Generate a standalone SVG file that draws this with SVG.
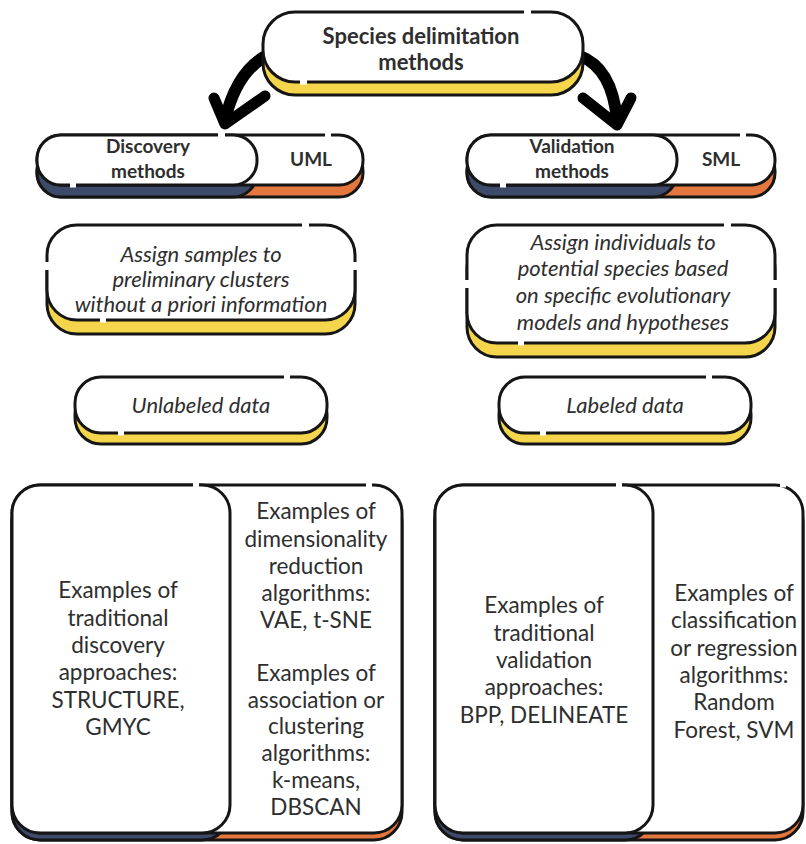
<svg xmlns="http://www.w3.org/2000/svg" width="806" height="844" viewBox="0 0 806 844">
<defs>
<style>
.bg{fill:#fff}
.box{fill:#fff;stroke:#151515;stroke-width:3}
.y{fill:#F4D54C;stroke:#151515;stroke-width:3}
.n{fill:#3D4A69;stroke:#151515;stroke-width:3}
.o{fill:#E3773E;stroke:#151515;stroke-width:3}
.gap{stroke:#fff;stroke-width:5;fill:none}
.arr{fill:none;stroke:#000;stroke-width:12;stroke-linecap:round}
.head{fill:none;stroke:#000;stroke-width:11;stroke-linecap:round;stroke-linejoin:round}
text{font-family:Lato,"Liberation Sans",sans-serif;fill:#2e2e2e;text-anchor:middle}
.b{font-weight:bold;font-size:22px}
.bs{font-weight:bold;font-size:19px}
.i{font-style:italic;font-size:22px}
.r{font-size:22.5px}
</style>
</defs>
<rect class="bg" x="0" y="0" width="806" height="844"/>

<g id="connectors">
<path class="arr" d="M 264 57 Q 236 74 225 120"/>
<path class="head" d="M 214 98 L 225 124 L 265 96"/>
<path class="arr" d="M 580 56 Q 612 68 617 120"/>
<path class="head" d="M 583 98 L 617 125 L 631 98"/>
</g>

<g id="root">
<rect class="y" x="263" y="25" width="320" height="70" rx="32"/>
<rect class="box" x="263" y="12" width="320" height="70" rx="32"/>
<line class="gap" x1="524" y1="12" x2="531" y2="12"/>
<line class="gap" x1="300" y1="82" x2="307" y2="82"/>
<text class="b" x="421" y="44">Species delimitation</text>
<text class="b" x="421" y="70">methods</text>
</g>

<g id="discovery">
<rect class="o" x="37" y="147" width="326" height="50" rx="24"/>
<rect class="n" x="37" y="147" width="220" height="50" rx="24"/>
<rect class="box" x="37" y="135" width="326" height="50" rx="24"/>
<rect class="box" x="37" y="135" width="220" height="50" rx="24"/>
<line class="gap" x1="218" y1="135" x2="225" y2="135"/>
<line class="gap" x1="325" y1="135" x2="331" y2="135"/>
<line class="gap" x1="70" y1="185" x2="76" y2="185"/>
<text class="bs" x="148" y="153">Discovery</text>
<text class="bs" x="148" y="178">methods</text>
<text class="bs" x="311" y="166">UML</text>
</g>

<g id="validation">
<rect class="o" x="467" y="147" width="308" height="50" rx="24"/>
<rect class="n" x="467" y="147" width="210" height="50" rx="24"/>
<rect class="box" x="467" y="135" width="308" height="50" rx="24"/>
<rect class="box" x="467" y="135" width="210" height="50" rx="24"/>
<line class="gap" x1="740" y1="135" x2="746" y2="135"/>
<line class="gap" x1="500" y1="185" x2="506" y2="185"/>
<text class="bs" x="572" y="153">Validation</text>
<text class="bs" x="572" y="178">methods</text>
<text class="bs" x="721" y="166">SML</text>
</g>

<g id="assign-samples">
<rect class="y" x="47" y="239" width="308" height="95" rx="30"/>
<rect class="box" x="47" y="225" width="308" height="95" rx="30"/>
<line class="gap" x1="302" y1="225" x2="309" y2="225"/>
<line class="gap" x1="47" y1="262" x2="47" y2="270"/>
<line class="gap" x1="355" y1="262" x2="355" y2="270"/>
<line class="gap" x1="100" y1="320" x2="106" y2="320"/>
<text class="i" x="201" y="262">Assign samples to</text>
<text class="i" x="201" y="287">preliminary clusters</text>
<text class="i" x="201" y="312">without a priori information</text>
</g>

<g id="assign-individuals">
<rect class="y" x="467" y="239" width="308" height="118" rx="30"/>
<rect class="box" x="467" y="225" width="308" height="118" rx="30"/>
<line class="gap" x1="724" y1="225" x2="731" y2="225"/>
<line class="gap" x1="775" y1="280" x2="775" y2="288"/>
<line class="gap" x1="467" y1="280" x2="467" y2="288"/>
<line class="gap" x1="518" y1="343" x2="524" y2="343"/>
<text class="i" x="623" y="250">Assign individuals to</text>
<text class="i" x="623" y="276">potential species based</text>
<text class="i" x="623" y="303">on specific evolutionary</text>
<text class="i" x="623" y="330">models and hypotheses</text>
</g>

<g id="unlabeled">
<rect class="y" x="75" y="388" width="252" height="56" rx="26"/>
<rect class="box" x="75" y="377" width="252" height="56" rx="26"/>
<line class="gap" x1="284" y1="377" x2="290" y2="377"/>
<line class="gap" x1="118" y1="433" x2="124" y2="433"/>
<text class="i" x="201" y="413">Unlabeled data</text>
</g>

<g id="labeled">
<rect class="y" x="499" y="388" width="252" height="56" rx="26"/>
<rect class="box" x="499" y="377" width="252" height="56" rx="26"/>
<line class="gap" x1="706" y1="377" x2="712" y2="377"/>
<line class="gap" x1="540" y1="433" x2="546" y2="433"/>
<text class="i" x="625" y="413">Labeled data</text>
</g>

<g id="discovery-examples">
<rect class="o" x="12" y="494" width="390" height="346" rx="28"/>
<rect class="n" x="12" y="494" width="218" height="346" rx="28"/>
<rect class="box" x="12" y="485" width="390" height="348" rx="28"/>
<rect class="box" x="12" y="485" width="218" height="348" rx="28"/>
<line class="gap" x1="193" y1="485" x2="199" y2="485"/>
<line class="gap" x1="366" y1="485" x2="372" y2="485"/>
<text class="r" x="118" y="598">Examples of</text>
<text class="r" x="118" y="626">traditional</text>
<text class="r" x="118" y="653">discovery</text>
<text class="r" x="118" y="680">approaches:</text>
<text class="r" x="118" y="708">STRUCTURE,</text>
<text class="r" x="118" y="735">GMYC</text>
<text class="r" x="316" y="519">Examples of</text>
<text class="r" x="316" y="547">dimensionality</text>
<text class="r" x="316" y="574">reduction</text>
<text class="r" x="316" y="601">algorithms:</text>
<text class="r" x="316" y="628">VAE, t-SNE</text>
<text class="r" x="316" y="681">Examples of</text>
<text class="r" x="316" y="708">association or</text>
<text class="r" x="316" y="734">clustering</text>
<text class="r" x="316" y="761">algorithms:</text>
<text class="r" x="316" y="788">k-means,</text>
<text class="r" x="316" y="815">DBSCAN</text>
</g>

<g id="validation-examples">
<rect class="o" x="435" y="494" width="368" height="346" rx="28"/>
<rect class="n" x="435" y="494" width="218" height="346" rx="28"/>
<rect class="box" x="435" y="485" width="368" height="348" rx="28"/>
<rect class="box" x="435" y="485" width="218" height="348" rx="28"/>
<line class="gap" x1="616" y1="485" x2="622" y2="485"/>
<line class="gap" x1="780" y1="485" x2="786" y2="485"/>
<text class="r" x="544" y="613">Examples of</text>
<text class="r" x="544" y="641">traditional</text>
<text class="r" x="544" y="668">validation</text>
<text class="r" x="544" y="695">approaches:</text>
<text class="r" x="544" y="723">BPP, DELINEATE</text>
<text class="r" x="734" y="601">Examples of</text>
<text class="r" x="734" y="628">classification</text>
<text class="r" x="734" y="656">or regression</text>
<text class="r" x="734" y="683">algorithms:</text>
<text class="r" x="734" y="710">Random</text>
<text class="r" x="734" y="738">Forest, SVM</text>
</g>
</svg>
